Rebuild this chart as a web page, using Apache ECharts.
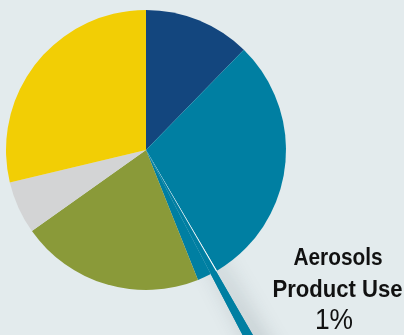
<!DOCTYPE html>
<html>
<head>
<meta charset="utf-8">
<script src="https://cdn.jsdelivr.net/npm/echarts@6/dist/echarts.min.js"></script>
<style>
html,body{margin:0;padding:0;background:#E3EBED;}
#c{width:404px;height:335px;}
</style>
</head>
<body>
<div id="c"></div>
<script>
// Data (percent share, clockwise from 12 o'clock)
const categories = ['Category 1', 'Category 2a', 'Aerosols Product Use', 'Category 2b', 'Category 3', 'Category 4', 'Category 5'];
const values = [12.3, 29.2, 0.8, 1.6, 21.2, 6.1, 28.7];
const colors = ['#13467E', '#007FA2', '#007FA2', '#007FA2', '#8A9A39', '#D3D4D5', '#F2CE05'];
const highlightIndex = 2;
const labelLines = ['Aerosols', 'Product Use'];
const labelValue = '1%';

const chart = echarts.init(document.getElementById('c'), null, {renderer: 'canvas'});

const base = {
  type: 'pie',
  center: [146, 150],
  startAngle: 90,
  clockwise: true,
  silent: true,
  animation: false,
  label: {show: false},
  labelLine: {show: false},
  emphasis: {disabled: true},
  avoidLabelOverlap: false
};

const pieData = categories.map((n, i) => ({
  name: n, value: values[i],
  itemStyle: {color: i === highlightIndex ? '#FFFFFF' : colors[i], borderWidth: 0}
}));

const nudge = 0.12;
function needleData(withShadow) {
  return categories.map((n, i) => {
    let v = values[i];
    if (i === highlightIndex - 1) v += nudge;
    if (i === highlightIndex) v -= nudge;
    const vis = i === highlightIndex;
    return {
      name: n, value: v,
      itemStyle: vis ? Object.assign({color: colors[i], borderWidth: 0},
        withShadow ? {shadowBlur: 22, shadowColor: 'rgba(40,60,70,0.35)', shadowOffsetX: 8, shadowOffsetY: 2} : {})
        : {color: 'rgba(0,0,0,0)', borderWidth: 0}
    };
  });
}

const boldFont = 'bold 23px "Liberation Sans", Arial, sans-serif';
chart.setOption({
  backgroundColor: '#E3EBED',
  animation: false,
  series: [
    Object.assign({}, base, {radius: [0, 240], data: needleData(true), z: 1}),
    Object.assign({}, base, {radius: [0, 140], data: pieData, z: 2}),
    Object.assign({}, base, {radius: [0, 240], data: needleData(false), z: 3})
  ],
  graphic: [
    {type: 'text', z: 10, x: 338, y: 258.5, scaleX: 0.905, style: {text: labelLines[0], x: 0, y: 0, textAlign: 'center', textVerticalAlign: 'middle', font: boldFont, fill: '#111'}},
    {type: 'text', z: 10, x: 337.5, y: 290.8, scaleX: 0.96, style: {text: labelLines[1], x: 0, y: 0, textAlign: 'center', textVerticalAlign: 'middle', font: boldFont, fill: '#111'}},
    {type: 'text', z: 10, x: 334, y: 321, scaleX: 0.91, style: {text: labelValue, x: 0, y: 0, textAlign: 'center', textVerticalAlign: 'middle', font: '29px "Liberation Sans", Arial, sans-serif', fill: '#111'}}
  ]
});
</script>
</body>
</html>
